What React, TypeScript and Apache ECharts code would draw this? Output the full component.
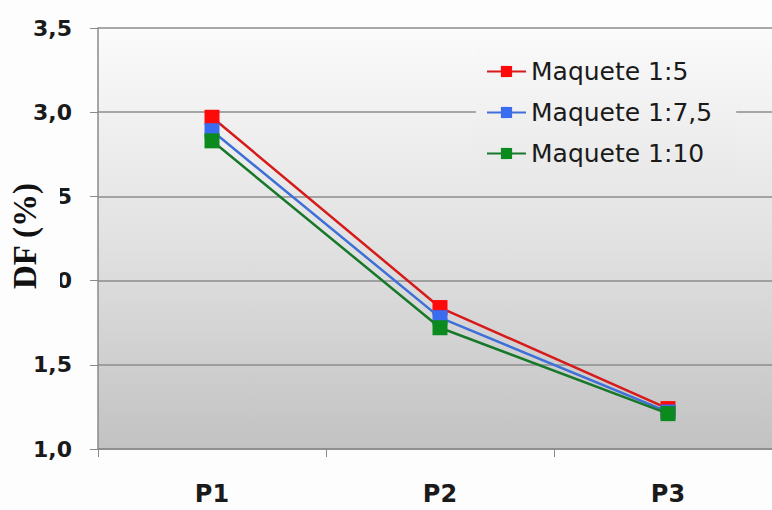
import React, { useEffect, useRef } from "react";
import * as echarts from "echarts";

const categories = ["P1", "P2", "P3"];
const seriesNames = ["Maquete 1:5", "Maquete 1:7,5", "Maquete 1:10"];
const valuesA = [2.97, 1.84, 1.24];
const valuesB = [2.89, 1.78, 1.22];
const valuesC = [2.83, 1.72, 1.21];
const yTicks = [1.0, 1.5, 2.0, 2.5, 3.0, 3.5];
const yAxisTitle = "DF (%)";

const markerColors = ["#ff0a0a", "#3a6cf0", "#0b8a1e"];
const lineColors = ["#d71a1a", "#3f6fd8", "#17782a"];

export default function App() {
  const ref = useRef<HTMLDivElement>(null);
  useEffect(() => {
    if (!ref.current) return;
    const chart = echarts.init(ref.current, null, { renderer: "svg" });
    const all = [valuesA, valuesB, valuesC];
    chart.setOption({
      animation: false,
      backgroundColor: "#fdfdfd",
      grid: {
        left: 98,
        top: 28,
        width: 684,
        height: 421,
        containLabel: false,
        outerBoundsMode: "none",
        show: true,
        borderWidth: 0,
        backgroundColor: new echarts.graphic.LinearGradient(0, 0, 0, 1, [
          { offset: 0, color: "#fbfbfb" },
          { offset: 0.5, color: "#e2e2e2" },
          { offset: 1, color: "#c2c2c2" },
        ]),
      },
      legend: {
        orient: "vertical",
        left: 476,
        top: 48,
        padding: [11, 24, 9, 10],
        backgroundColor: new echarts.graphic.LinearGradient(0, 0, 0, 1, [
          { offset: 0, color: "#f8f8f8" },
          { offset: 1, color: "#e9e9e9" },
        ]),
        itemWidth: 39,
        itemHeight: 14,
        itemGap: 16,
        data: seriesNames,
        textStyle: {
          fontFamily: "DejaVu Sans",
          fontSize: 25,
          color: "#1a1a1a",
        },
      },
      graphic: [
        {
          type: "rect",
          z: 100,
          shape: { x: 0, y: 174, width: 60, height: 124 },
          style: { fill: "#fdfdfd" },
        },
        {
          type: "text",
          z: 101,
          x: 25,
          y: 236,
          rotation: Math.PI / 2,
          style: {
            text: yAxisTitle,
            font: 'bold 33px "Liberation Serif"',
            fill: "#111",
            align: "center",
            verticalAlign: "middle",
          },
        },
      ],
      xAxis: {
        type: "category",
        data: categories,
        boundaryGap: true,
        axisLine: { show: true, lineStyle: { color: "#8a8a8a", width: 1.5 } },
        axisTick: { show: true, length: 8, lineStyle: { color: "#8a8a8a" } },
        axisLabel: {
          margin: 35,
          lineHeight: 20,
          fontFamily: "DejaVu Sans",
          fontWeight: "bold",
          fontSize: 24,
          color: "#1a1a1a",
        },
      },
      yAxis: {
        type: "value",
        min: yTicks[0],
        max: yTicks[yTicks.length - 1],
        interval: 0.5,
        axisLine: { show: true, lineStyle: { color: "#8a8a8a", width: 1.5 } },
        axisTick: { show: true, length: 8, lineStyle: { color: "#8a8a8a" } },
        splitLine: { show: true, lineStyle: { color: "#8c8c8c", width: 1.5 } },
        axisLabel: {
          margin: 26,
          fontFamily: "DejaVu Sans",
          fontWeight: "bold",
          fontSize: 22,
          color: "#1a1a1a",
          formatter: (v: number) => v.toFixed(1).replace(".", ","),
        },
      },
      series: seriesNames.map((name, i) => ({
        name,
        type: "line",
        data: all[i],
        symbol: "rect",
        symbolSize: 15,
        itemStyle: { color: markerColors[i] },
        lineStyle: { color: lineColors[i], width: 2.5 },
        z: 2 + i,
      })),
    });
    return () => chart.dispose();
  }, []);
  return (
    <div
      ref={ref}
      style={{ position: "fixed", left: 0, top: 0, width: 772, height: 510 }}
    />
  );
}
